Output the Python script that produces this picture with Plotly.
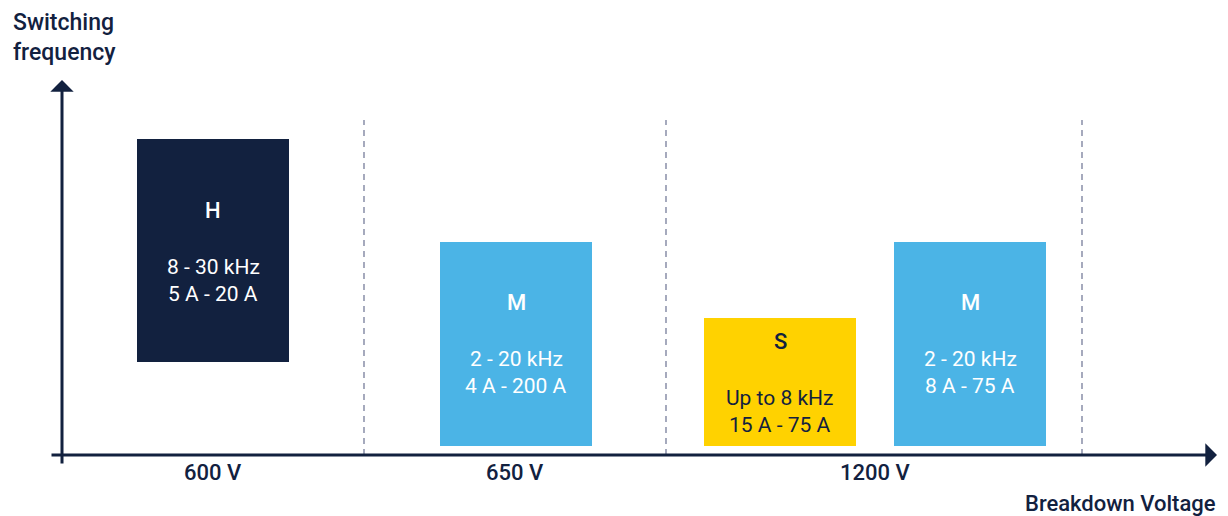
import plotly.graph_objects as go

# --- data (axis units: 1 unit = 100 px of the diagram) ---
groups = ["600 V", "650 V", "1200 V"]
group_pos = [2.13, 5.15, 8.75]
separators = [3.64, 6.66, 10.82]

classes = ["H", "M", "S", "M"]
freq_text = ["8 - 30 kHz", "2 - 20 kHz", "Up to 8 kHz", "2 - 20 kHz"]
current_text = ["5 A - 20 A", "4 A - 200 A", "15 A - 75 A", "8 A - 75 A"]
box_pos = [2.13, 5.16, 7.80, 9.70]
box_low = [0.93, 0.09, 0.09, 0.09]
box_high = [3.16, 2.13, 1.37, 2.13]
title_y = [2.45, 1.53, 1.14, 1.53]

NAVY = "#12213f"
BLUE = "#4bb4e6"
YELLOW = "#ffd200"
class_color = {"H": NAVY, "M": BLUE, "S": YELLOW}
class_text = {"H": "white", "M": "white", "S": NAVY}
FONT = "Roboto, Liberation Sans Narrow, sans-serif"

fig = go.Figure()

# boxes
fig.add_trace(go.Bar(
    x=box_pos,
    y=[h - l for h, l in zip(box_high, box_low)],
    base=box_low,
    width=1.52,
    marker=dict(color=[class_color[c] for c in classes], line=dict(width=0)),
    hoverinfo="skip", showlegend=False,
))

# dashed separators
for sx in separators:
    fig.add_shape(type="line", x0=sx, x1=sx, y0=0, y1=3.35, xref="x", yref="y",
                  line=dict(color="#9095ad", width=1.6, dash="6px,5px"), layer="below")

annotations = []
# box texts
for c, f, cur, bx, ty in zip(classes, freq_text, current_text, box_pos, title_y):
    col = class_text[c]
    annotations.append(dict(x=bx, y=ty, text=c, showarrow=False,
                            font=dict(size=22, color=col, family=FONT, weight=500)))
    annotations.append(dict(x=bx, y=ty, text=f, showarrow=False, yshift=-57,
                            font=dict(size=21, color=col, family=FONT)))
    annotations.append(dict(x=bx, y=ty, text=cur, showarrow=False, yshift=-84,
                            font=dict(size=21, color=col, family=FONT)))

# group labels
for g, gx in zip(groups, group_pos):
    annotations.append(dict(x=gx, y=-0.17, text=g, showarrow=False,
                            font=dict(size=22, color=NAVY, family=FONT, weight=500)))

# axes with arrows
annotations.append(dict(x=0.62, y=3.75, ax=0.62, ay=-0.10, axref="x", ayref="y",
                        text="", showarrow=True, arrowhead=1, arrowsize=1.3,
                        arrowwidth=3, arrowcolor=NAVY, standoff=0))
annotations.append(dict(x=12.17, y=0, ax=0.50, ay=0, axref="x", ayref="y",
                        text="", showarrow=True, arrowhead=1, arrowsize=1.3,
                        arrowwidth=3, arrowcolor=NAVY, standoff=0))

# axis titles
annotations.append(dict(x=0.11, y=4.33, text="Switching", showarrow=False,
                        xanchor="left", font=dict(size=23, color=NAVY, family=FONT, weight=500)))
annotations.append(dict(x=0.11, y=4.03, text="frequency", showarrow=False,
                        xanchor="left", font=dict(size=23, color=NAVY, family=FONT, weight=500)))
annotations.append(dict(x=12.18, y=-0.48, text="Breakdown Voltage", showarrow=False,
                        xanchor="right", font=dict(size=22, color=NAVY, family=FONT, weight=500)))

# page body has an 8 px margin, so the figure starts at (8, 8) in the window
fig.update_layout(
    width=1220, height=508,
    margin=dict(t=0, b=0, l=0, r=0),
    plot_bgcolor="white", paper_bgcolor="white",
    xaxis=dict(range=[0.08, 12.28], visible=False, fixedrange=True),
    yaxis=dict(range=[-0.61, 4.47], visible=False, fixedrange=True),
    annotations=annotations,
    font=dict(family=FONT),
)

fig.write_html("out.html")
